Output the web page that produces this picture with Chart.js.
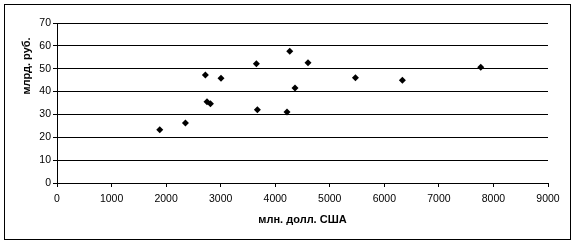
<!DOCTYPE html>
<html>
<head>
<meta charset="utf-8">
<script src="https://cdn.jsdelivr.net/npm/chart.js@4/dist/chart.umd.min.js"></script>
<style>
  body { margin: 0; background: #fff; }
  #wrap { position: relative; width: 575px; height: 244px; }
  #frame {
    position: absolute; left: 4px; top: 4px; width: 567px; height: 236px;
    box-sizing: border-box; border: 1px solid #000; pointer-events: none;
  }
</style>
</head>
<body>
<div id="wrap">
  <canvas id="scatterChart"></canvas>
  <div id="frame"></div>
</div>
<script>
// data
const usdMln = [1883, 2354, 2720, 2750, 2812, 3006, 3655, 3673, 4216, 4266, 4363, 4601, 5470, 6331, 7767];
const rubBln = [23.3, 26.2, 47.2, 35.6, 34.7, 45.8, 52.2, 32.1, 31.1, 57.6, 41.6, 52.6, 46.1, 44.9, 50.6];
const xTitle = "млн. долл. США";
const yTitle = "млрд. руб.";

const FONT = "'Liberation Sans', Arial, sans-serif";

// y title sits above the middle of the axis, so draw it ourselves
const yTitlePlugin = {
  id: "yTitle",
  afterDraw(chart) {
    const ctx = chart.ctx;
    ctx.save();
    ctx.translate(27, 66);
    ctx.rotate(-Math.PI / 2);
    ctx.font = "bold 11px " + FONT;
    ctx.fillStyle = "#000";
    ctx.textAlign = "center";
    ctx.textBaseline = "middle";
    ctx.fillText(yTitle, 0, 0);
    ctx.restore();
  },
};

const ctx = document.getElementById("scatterChart").getContext("2d");
new Chart(ctx, {
  type: "scatter",
  data: {
    datasets: [
      {
        data: usdMln.map((x, i) => ({ x: x, y: rubBln[i] })),
        pointStyle: "rectRot",
        pointRadius: 3.5,
        borderWidth: 0,
        backgroundColor: "#000",
        borderColor: "#000",
      },
    ],
  },
  options: {
    responsive: true,
    maintainAspectRatio: false,
    animation: false,
    layout: { padding: { top: 23, right: 27, left: 0, bottom: 0 } },
    plugins: { legend: { display: false }, tooltip: { enabled: false } },
    scales: {
      x: {
        type: "linear",
        min: 0,
        max: 9000,
        ticks: {
          stepSize: 1000,
          color: "#000",
          padding: 6,
          maxRotation: 0,
          font: { family: FONT, size: 10.5 },
          callback: (v) => String(v), // no thousands separator
        },
        grid: { drawOnChartArea: false, tickLength: 4, color: "#000" },
        border: { color: "#000" },
        title: {
          display: true,
          text: xTitle,
          color: "#000",
          font: { family: FONT, size: 11, weight: "bold" },
          padding: { top: 0, bottom: 17 },
        },
        afterFit: (scale) => { scale.height = 61; },
      },
      y: {
        min: 0,
        max: 70,
        ticks: {
          stepSize: 10,
          color: "#000",
          padding: 2,
          font: { family: FONT, size: 10.5 },
        },
        grid: { color: "#000", tickLength: 4 },
        border: { color: "#000" },
        afterFit: (scale) => { scale.width = 57; },
      },
    },
  },
  plugins: [yTitlePlugin],
});
</script>
</body>
</html>
